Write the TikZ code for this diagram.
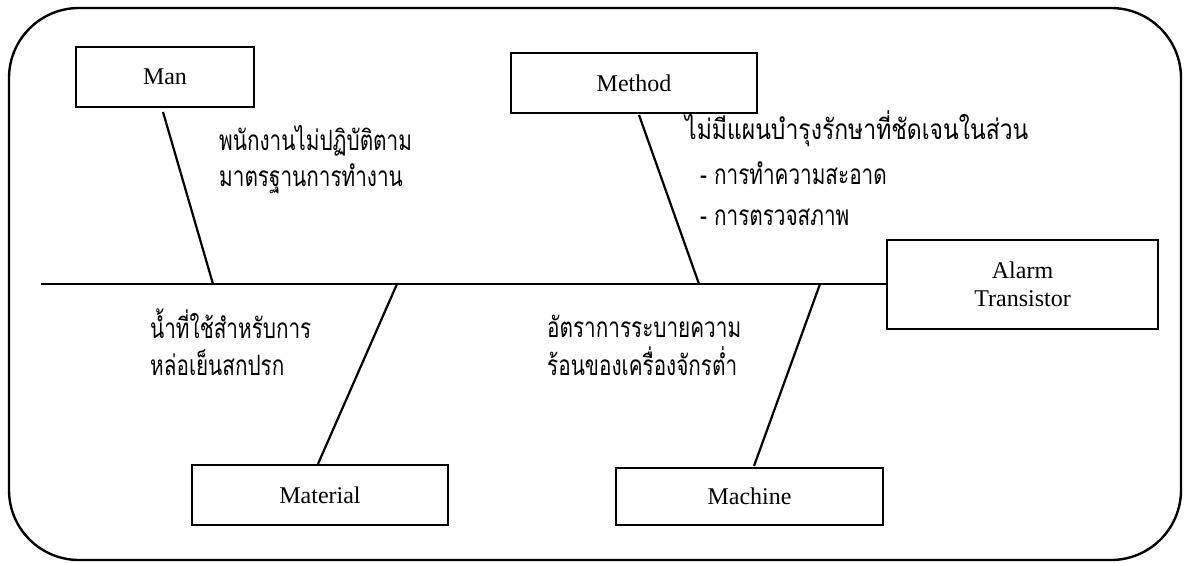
\documentclass[tikz,border=0pt]{standalone}
\usepackage{fontspec}
\setmainfont{Liberation Serif}
\newfontfamily\thaifont[Script=Thai, FakeStretch=0.74]{Loma}
\newfontfamily\thaiwide[Script=Thai, FakeStretch=0.82]{Loma}
\tikzset{
  catbox/.style={draw, line width=2.2pt, inner sep=0pt, align=center,
    font=\fontsize{24}{28}\selectfont},
  bone/.style={line width=2.2pt},
  cause/.style={anchor=base west, inner sep=0pt, align=left},
}
\begin{document}
\begin{tikzpicture}[x=1pt,y=-1pt]
\useasboundingbox (0,0) rectangle (1185,562);
\draw[line width=2.4pt, rounded corners=70pt] (9,8) rectangle (1181,560);

% category boxes
\node[catbox, minimum width=178pt, minimum height=60pt] (man) at (165,77) {Man};
\node[catbox, minimum width=246pt, minimum height=60pt] (method) at (634,83) {Method};
\node[catbox, minimum width=271pt, minimum height=89pt] (alarm) at (1022.5,284.5) {Alarm\\Transistor};
\node[catbox, minimum width=256pt, minimum height=60pt] (material) at (320,495) {Material};
\node[catbox, minimum width=267pt, minimum height=57pt] (machine) at (749.5,496.5) {Machine};

% spine
\coordinate (tail) at (41,284);
\draw[bone] (tail) -- (alarm.west |- tail);

% bones
\coordinate (manT) at (163,112);
\coordinate (manJ) at (213,284);
\coordinate (metT) at (639,115);
\coordinate (metJ) at (699,284);
\coordinate (matJ) at (397,284);
\coordinate (macJ) at (820,284);
\coordinate (macB) at (754,466);
\draw[bone] (manT) -- (manJ);
\draw[bone] (metT) -- (metJ);
\draw[bone] (matJ) -- (material.north -| 318,0);
\draw[bone] (macJ) -- (macB);

% cause texts (anchor = baseline of the last line)
\node[cause, font=\thaifont\fontsize{28}{36}\selectfont] (t1) at (219,186)
  {พนักงานไม่ปฏิบัติตาม\\มาตรฐานการทำงาน};
\node[cause, font=\thaiwide\fontsize{28}{36}\selectfont] (t2a) at (685,139)
  {ไม่มีแผนบำรุงรักษาที่ชัดเจนในส่วน};
\node[cause, font=\thaifont\fontsize{28}{36}\selectfont] (t2b) at (700,184)
  {- การทำความสะอาด};
\node[cause, font=\thaifont\fontsize{28}{36}\selectfont] (t2c) at (700,225)
  {- การตรวจสภาพ};
\node[cause, font=\thaifont\fontsize{28}{37}\selectfont] (t3) at (150,375)
  {น้ำที่ใช้สำหรับการ\\หล่อเย็นสกปรก};
\node[cause, font=\thaifont\fontsize{28}{38}\selectfont] (t4) at (547,375)
  {อัตราการระบายความ\\ร้อนของเครื่องจักรต่ำ};
\end{tikzpicture}
\end{document}
